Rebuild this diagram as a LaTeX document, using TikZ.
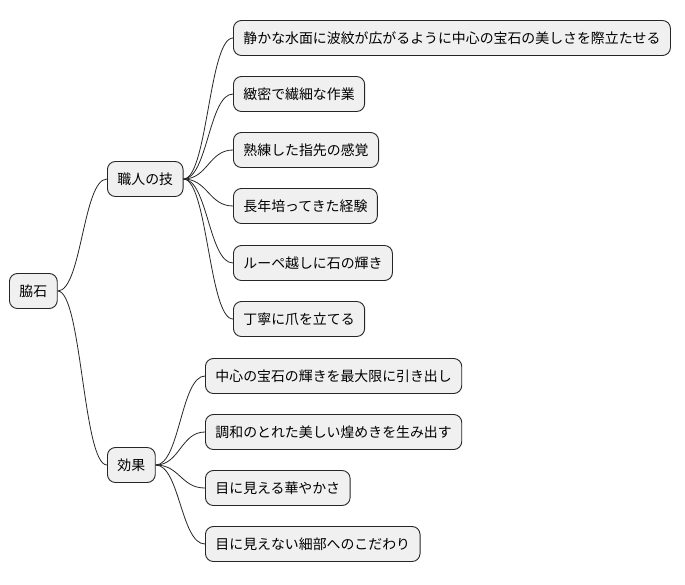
\documentclass[tikz,border=0pt]{standalone}
\usepackage{fontspec}
\newfontfamily\cjk{Noto Sans CJK JP}
\begin{document}
\begin{tikzpicture}[x=1pt,y=-1pt,
  box/.style={draw=black!85,fill=black!6,rounded corners=8pt,line width=0.9pt,minimum height=35pt,inner xsep=10pt,anchor=west,font=\cjk\fontsize{13.9}{15}\selectfont},
  link/.style={draw=black!85,line width=0.8pt}]
\useasboundingbox (0,0) rectangle (685,584);
\node[box] (r) at (9,291) {脇石};
\node[box] (a) at (107,179) {職人の技};
\node[box] (b) at (107,465) {効果};
\node[box] (a1) at (233,38) {静かな水面に波紋が広がるように中心の宝石の美しさを際立たせる};
\node[box] (a2) at (233,94) {緻密で繊細な作業};
\node[box] (a3) at (233,150) {熟練した指先の感覚};
\node[box] (a4) at (233,206) {長年培ってきた経験};
\node[box] (a5) at (233,263) {ルーペ越しに石の輝き};
\node[box] (a6) at (233,319) {丁寧に爪を立てる};
\node[box] (b1) at (205,376) {中心の宝石の輝きを最大限に引き出し};
\node[box] (b2) at (205,432) {調和のとれた美しい煌めきを生み出す};
\node[box] (b3) at (205,488) {目に見える華やかさ};
\node[box] (b4) at (205,544) {目に見えない細部へのこだわり};
\foreach \p/\c in {r/a,r/b,a/a1,a/a2,a/a3,a/a4,a/a5,a/a6,b/b1,b/b2,b/b3,b/b4}{
  \draw[link] (\p.east) .. controls ([xshift=24pt]\p.east) and ([xshift=-24pt]\c.west) .. (\c.west);
}
\end{tikzpicture}
\end{document}
